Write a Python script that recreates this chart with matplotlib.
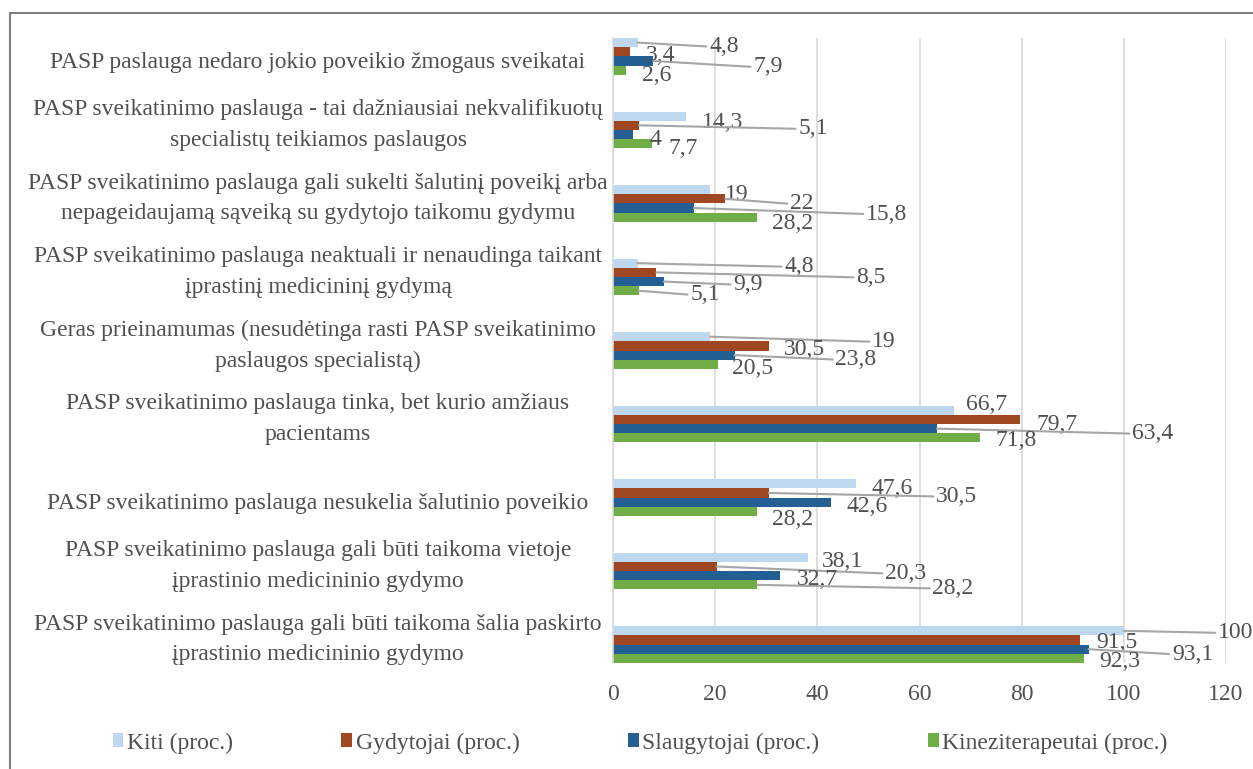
import matplotlib
matplotlib.use("Agg")
import matplotlib.pyplot as plt
from matplotlib.patches import Rectangle, Patch
from matplotlib.transforms import blended_transform_factory, ScaledTranslation

# =============================
# DATA (categories listed top to bottom as in the chart)
# =============================
categories = [
    "PASP paslauga nedaro jokio poveikio žmogaus sveikatai",
    "PASP sveikatinimo paslauga - tai dažniausiai nekvalifikuotų\nspecialistų teikiamos paslaugos",
    "PASP sveikatinimo paslauga gali sukelti šalutinį poveikį arba\nnepageidaujamą sąveiką su gydytojo taikomu gydymu",
    "PASP sveikatinimo paslauga neaktuali ir nenaudinga taikant\nįprastinį medicininį gydymą",
    "Geras prieinamumas (nesudėtinga rasti PASP sveikatinimo\npaslaugos specialistą)",
    "PASP sveikatinimo paslauga tinka, bet kurio amžiaus\npacientams",
    "PASP sveikatinimo paslauga nesukelia šalutinio poveikio",
    "PASP sveikatinimo paslauga gali būti taikoma vietoje\nįprastinio medicininio gydymo",
    "PASP sveikatinimo paslauga gali būti taikoma šalia paskirto\nįprastinio medicininio gydymo",
]
series_names = ["Kiti (proc.)", "Gydytojai (proc.)",
                "Slaugytojai (proc.)", "Kineziterapeutai (proc.)"]
kiti        = [4.8, 14.3, 19, 4.8, 19, 66.7, 47.6, 38.1, 100]
gydytojai   = [3.4, 5.1, 22, 8.5, 30.5, 79.7, 30.5, 20.3, 91.5]
slaugytojai = [7.9, 4, 15.8, 9.9, 23.8, 63.4, 42.6, 32.7, 93.1]
kinezit     = [2.6, 7.7, 28.2, 5.1, 20.5, 71.8, 28.2, 28.2, 92.3]
x_ticks     = [0, 20, 40, 60, 80, 100, 120]

# =============================
# LAYOUT / STYLE
# =============================
COLORS    = ["#BDD7EE", "#9E4720", "#245F93", "#70AD47"]
TEXT_C    = "#505050"
LEADER_C  = "#A6A6A6"
GRID_C    = "#D9D9D9"
FONT      = "Liberation Serif"
FS        = 17
BAR_H     = 0.125

# label offsets from the bar end, pixels (dx right, dy down)
label_dx = [
    [86.5, 37, 27, 161.5, 174, 33, 36, 35.3, 112],
    [30.6, 174, 76.6, 214.6, 36, 36.7, 188, 189, 36.4],
    [114.6, 21.6, 193, 84.4, 121.4, 216, 36.3, 37, 104],
    [30.7, 30.7, 36, 66, 35, 36, 36, 196, 35],
]
label_dy = [
    [2, 4, 3, 1.5, 3, -8, 3, 2, 0],
    [2, 1.5, 3, 3, 2, 3, 1.5, 5, 0],
    [4, 3, 4, 1, 2.5, 3, 2, 2, 3],
    [3, 3, 4.5, 2, 2, 1, 6, 1.5, 1],
]

plt.rcParams['font.family'] = [FONT, 'DejaVu Serif']

W, H = 1253, 769
fig = plt.figure(figsize=(W / 100, H / 100), dpi=100)
ax = fig.add_axes([613 / W, 106 / H, 613 / W, 625 / H])

n = len(categories)
ypos = [n - 1 - i for i in range(n)]
all_series = [kiti, gydytojai, slaugytojai, kinezit]
offsets = [1.5, 0.5, -0.5, -1.5]

for s, (vals, col, off) in enumerate(zip(all_series, COLORS, offsets)):
    yy = [y + off * BAR_H for y in ypos]
    ax.barh(yy, vals, height=BAR_H, color=col, label=series_names[s], zorder=2)
    for i, (v, y) in enumerate(zip(vals, yy)):
        dx = label_dx[s][i]
        dy = label_dy[s][i] + 2
        txt = f"{v:g}".replace(".", ",")
        props = None
        if dx > 50:
            props = dict(arrowstyle="-", color=LEADER_C, lw=1.5,
                         shrinkA=0, shrinkB=0, relpos=(0, 0.5))
        ax.annotate(txt, xy=(v, y), xytext=(dx, -dy),
                    textcoords="offset pixels", ha="center", va="center",
                    fontsize=FS, color=TEXT_C, arrowprops=props,
                    annotation_clip=False, zorder=3)

ax.set_xlim(0, 120)
ax.set_ylim(-0.25, n - 0.75)
ax.set_xticks(x_ticks)
ax.set_xticklabels([str(t) for t in x_ticks], fontsize=FS, color=TEXT_C)
ax.tick_params(axis="x", length=0, pad=15)
ax.set_yticks([])
ax.grid(axis="x", color=GRID_C, linewidth=1.2, zorder=0)
for side in ["top", "right", "bottom"]:
    ax.spines[side].set_visible(False)
ax.spines["left"].set_color(GRID_C)
ax.spines["left"].set_linewidth(1.2)

# category labels centred in the label column
trans = blended_transform_factory(fig.transFigure, ax.transData)
for cat, y in zip(categories, ypos):
    shift = 5 if "\n" in cat else -6
    t = trans + ScaledTranslation(0, shift / 100, fig.dpi_scale_trans)
    ax.text(318 / W, y, cat, transform=t, ha="center", va="center",
            multialignment="center", fontsize=FS, color=TEXT_C,
            linespacing=1.6, clip_on=False)

handles = [Patch(facecolor=c) for c in COLORS]
fig.legend(handles, series_names, loc="center",
           bbox_to_anchor=(640 / W, 1 - 743 / H), ncol=4, frameon=False,
           fontsize=FS, labelcolor=TEXT_C, handlelength=0.45,
           handleheight=0.5, handletextpad=0.15, columnspacing=4.6)

# chart border
fig.patches.append(Rectangle((10 / W, -0.01), 1.0, 1 - 13 / H + 0.01,
                             transform=fig.transFigure, fill=False,
                             edgecolor="#7F7F7F", linewidth=1.5))

fig.savefig("out.png", dpi=100)
